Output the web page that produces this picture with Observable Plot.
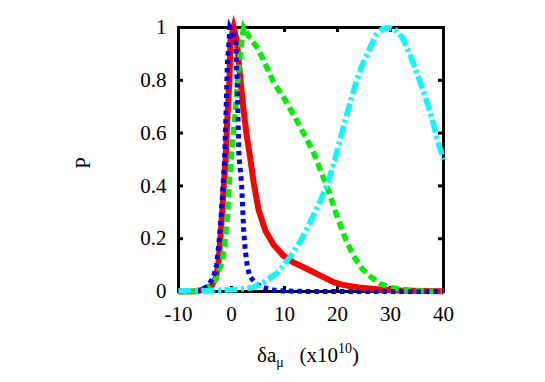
<!DOCTYPE html>
<html><head><meta charset="utf-8">
<script src="https://cdn.jsdelivr.net/npm/d3@7"></script>
<script src="https://cdn.jsdelivr.net/npm/@observablehq/plot@0.6"></script>
<style>
html,body{margin:0;padding:0;background:#fff;}
svg text{font-family:"Liberation Serif","Times New Roman",serif !important;}
</style>
</head><body>
<div id="chart"></div>
<script>
const xTicks = [-10, 0, 10, 20, 30, 40];
const yTicks = [0, 0.2, 0.4, 0.6, 0.8, 1];

const redX = [-10, -7, -5.8, -4.5, -3.8, -3, -2.5, -2.1, -1.75, -1.45, -1.1, -0.8, -0.4, -0.2, 0.4, 1.0, 1.6, 2.2, 2.8, 3.5, 4.2, 5.1, 6.4, 8, 9.8, 11.7, 14.3, 16.8, 19.2, 21, 24, 28, 32, 36, 40];
const redP = [0, 0.001, 0.005, 0.013, 0.02, 0.05, 0.1, 0.2, 0.3, 0.4, 0.5, 0.65, 0.8, 0.95, 1.0, 0.95, 0.82, 0.7, 0.6, 0.51, 0.41, 0.31, 0.23, 0.175, 0.136, 0.11, 0.085, 0.06, 0.036, 0.025, 0.015, 0.008, 0.004, 0.002, 0.001];

const greenX = [-10, -7, -6, -5, -4, -3, -2, -1.4, -0.8, -0.4, 0, 0.6, 1.2, 1.8, 2.3, 3.5, 5, 6.4, 8, 10, 11.7, 13.6, 15.4, 17, 18.5, 20, 21.5, 23, 24.5, 26, 28, 30, 32, 34, 37, 40];
const greenP = [0, 0, 0.005, 0.01, 0.025, 0.045, 0.1, 0.16, 0.28, 0.42, 0.52, 0.65, 0.8, 0.93, 1.0, 0.96, 0.92, 0.86, 0.79, 0.73, 0.67, 0.6, 0.53, 0.45, 0.37, 0.28, 0.2, 0.135, 0.09, 0.06, 0.03, 0.015, 0.008, 0.004, 0.001, 0];

const blueX = [-10, -7, -6, -4.5, -3.5, -2.8, -2.3, -1.9, -1.6, -1.3, -1.0, -0.8, -0.3, 0.75, 1.07, 1.4, 1.9, 2.3, 2.6, 2.95, 3.4, 4.5, 6, 8, 10, 15, 20, 25, 30, 35, 40];
const blueP = [0, 0.001, 0.003, 0.02, 0.05, 0.1, 0.2, 0.3, 0.4, 0.5, 0.7, 0.85, 1.0, 0.96, 0.79, 0.515, 0.41, 0.23, 0.155, 0.1, 0.06, 0.03, 0.015, 0.005, 0.002, 0, 0, 0, 0, 0, 0];

const cyanX = [-10, -5, 0, 2, 4, 6, 8.7, 11, 13, 15, 16.8, 18.3, 19.5, 20.8, 22, 23.3, 24.5, 25.8, 27.2, 28.5, 29.6, 31, 32.3, 33.8, 35.3, 36.6, 37.9, 38.9, 40];
const cyanP = [0.002, 0.003, 0.007, 0.01, 0.015, 0.034, 0.072, 0.13, 0.19, 0.27, 0.345, 0.42, 0.5, 0.6, 0.69, 0.78, 0.85, 0.91, 0.97, 0.995, 1.0, 0.99, 0.96, 0.89, 0.81, 0.735, 0.65, 0.57, 0.5];

const toRows = (xs, ps) => xs.map((x, i) => ({x, p: ps[i]}));
const red = toRows(redX, redP), green = toRows(greenX, greenP), blue = toRows(blueX, blueP), cyan = toRows(cyanX, cyanP);

const W = 545, H = 382, mL = 178, mR = 102, mT = 27, mB = 91;
const innerH = H - mT - mB;
const tk = 5;
const font = "Liberation Serif";

const lineOpts = {x: "x", y: "p", strokeWidth: 5.5, strokeLinecap: "butt", strokeLinejoin: "miter", strokeMiterlimit: 10, curve: "linear"};

const plot = Plot.plot({
  width: W, height: H,
  marginLeft: mL, marginRight: mR, marginTop: mT, marginBottom: mB,
  style: {fontFamily: font, fontSize: "21px", color: "#000", background: "#fff", overflow: "visible"},
  x: {domain: [-10, 40]},
  y: {domain: [0, 1]},
  marks: [
    Plot.axisX(xTicks, {tickSize: 0, tickPadding: 15, label: null, fontSize: 21, fontFamily: font, tickFormat: d => String(d)}),
    Plot.axisY(yTicks, {tickSize: 0, tickPadding: 12, label: null, fontSize: 21, fontFamily: font, tickFormat: d => String(d)}),
    Plot.tickX(xTicks, {x: d => d, insetTop: innerH - tk, stroke: "#000", strokeWidth: 3}),
    Plot.tickX(xTicks, {x: d => d, insetBottom: innerH - tk, stroke: "#000", strokeWidth: 3}),
    Plot.tickY(yTicks, {y: d => d, insetRight: (W - mL - mR) - tk, stroke: "#000", strokeWidth: 3}),
    Plot.tickY(yTicks, {y: d => d, insetLeft: (W - mL - mR) - tk, stroke: "#000", strokeWidth: 3}),
    Plot.frame({stroke: "#000", strokeWidth: 3}),
    Plot.line(red, {...lineOpts, stroke: "#ff0000", strokeWidth: 6}),
    Plot.line(green, {...lineOpts, stroke: "#00f000", strokeDasharray: "8,4.5"}),
    Plot.line(blue, {...lineOpts, stroke: "#0000ff", strokeWidth: 5, strokeDasharray: "4.5,4"}),
    Plot.line(cyan, {...lineOpts, stroke: "#00ffff", strokeDasharray: "13,3.5,3,3.5"})
  ]
});

document.getElementById("chart").appendChild(plot);

const svg = d3.select(plot);
const ys = plot.scale("y");

// y label
svg.append("text")
  .attr("transform", `translate(90,${(ys.apply(0) + ys.apply(1)) / 2 + 4}) rotate(-90)`)
  .attr("text-anchor", "middle")
  .attr("font-family", font).attr("font-size", 21).attr("fill", "#000")
  .text("P");

// x label
const xl = svg.append("text")
  .attr("x", 308).attr("y", 362)
  .attr("text-anchor", "middle")
  .attr("font-family", font).attr("font-size", 21).attr("fill", "#000");
xl.append("tspan").text("δa");
xl.append("tspan").attr("font-size", 14).attr("dy", 5).text("μ");
xl.append("tspan").attr("dy", -5).text("\u00a0\u00a0\u00a0(x10");
xl.append("tspan").attr("font-size", 14).attr("dy", -9).text("10");
xl.append("tspan").attr("dy", 9).text(")");
</script>
</body></html>
